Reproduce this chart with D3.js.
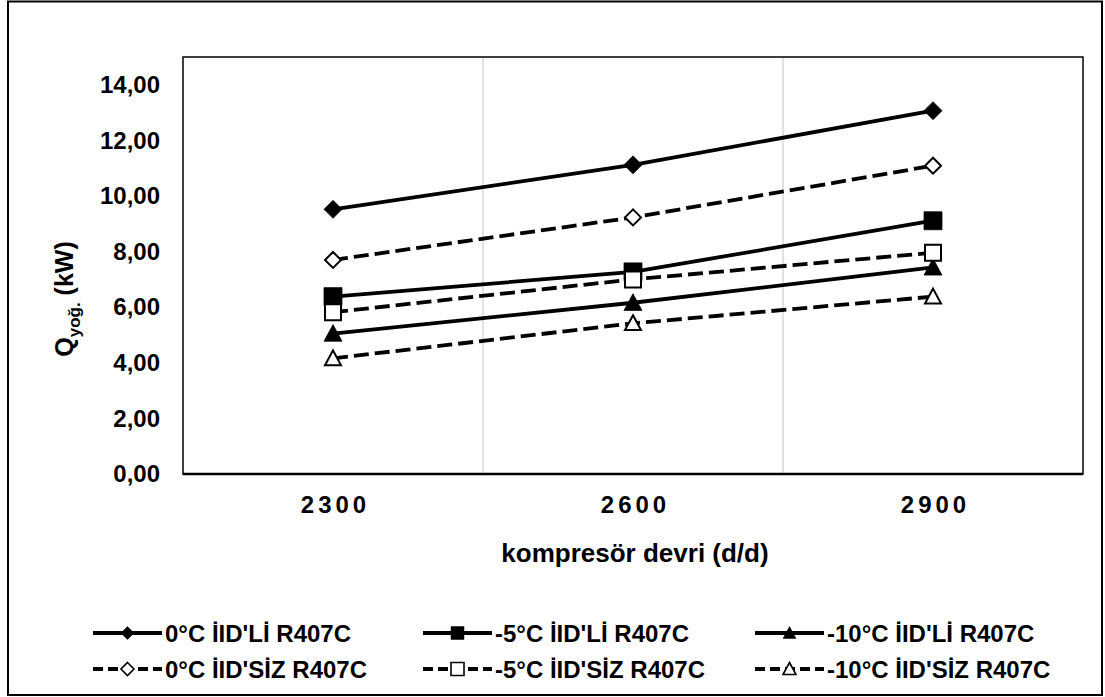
<!DOCTYPE html>
<html>
<head>
<meta charset="utf-8">
<script src="https://cdn.jsdelivr.net/npm/d3@7"></script>
<style>
  html, body { margin: 0; padding: 0; background: #fff; }
  svg text { font-family: "Liberation Sans", Arial, sans-serif; font-weight: bold; fill: #000; }
</style>
</head>
<body>
<svg id="chart" width="1105" height="697"></svg>
<script>
// Compressor speed categories (rpm)
const categories = ["2300", "2600", "2900"];

// Condenser capacity Q (kW) for each evaporating temperature, with / without IHX
const q0Li   = [9.52, 11.12, 13.07];
const q5Li   = [6.38, 7.27, 9.11];
const q10Li  = [5.05, 6.16, 7.43];
const q0Siz  = [7.70, 9.23, 11.09];
const q5Siz  = [5.82, 7.00, 7.96];
const q10Siz = [4.16, 5.42, 6.38];

const seriesNames = [
  "0°C İID'Lİ R407C", "-5°C İID'Lİ R407C", "-10°C İID'Lİ R407C",
  "0°C İID'SİZ R407C", "-5°C İID'SİZ R407C", "-10°C İID'SİZ R407C"
];
const seriesValues = [q0Li, q5Li, q10Li, q0Siz, q5Siz, q10Siz];
const seriesMarker = ["diamond", "square", "triangle", "diamond", "square", "triangle"];
const seriesFilled = [true, true, true, false, false, false];

const yTicks = [0, 2, 4, 6, 8, 10, 12, 14];
const yMax = 15;

const svg = d3.select("#chart");

// outer frame
svg.append("rect")
  .attr("x", 8).attr("y", 1.5).attr("width", 1094).attr("height", 693.5)
  .attr("fill", "#fff").attr("stroke", "#000").attr("stroke-width", 2);

const plot = { left: 183, top: 57, right: 1083, bottom: 474 };

const x = d3.scalePoint().domain(categories)
  .range([plot.left, plot.right]).padding(0.5);
const step = x.step();
const y = d3.scaleLinear().domain([0, yMax]).range([plot.bottom, plot.top]);

// vertical gridlines between categories
const g = svg.append("g");
g.selectAll("line.grid")
  .data(categories.slice(1))
  .join("line")
  .attr("class", "grid")
  .attr("x1", d => x(d) - step / 2).attr("x2", d => x(d) - step / 2)
  .attr("y1", plot.top).attr("y2", plot.bottom)
  .attr("stroke", "#d9d9d9").attr("stroke-width", 1.5);

// plot area border
g.append("rect")
  .attr("x", plot.left).attr("y", plot.top)
  .attr("width", plot.right - plot.left).attr("height", plot.bottom - plot.top)
  .attr("fill", "none").attr("stroke", "#000").attr("stroke-width", 1.5);
g.append("line")
  .attr("x1", plot.left).attr("x2", plot.right)
  .attr("y1", plot.bottom).attr("y2", plot.bottom)
  .attr("stroke", "#000").attr("stroke-width", 2.5);

// y axis
const yAxis = d3.axisLeft(y).tickValues(yTicks)
  .tickSize(0).tickPadding(23)
  .tickFormat(d => d3.format(".2f")(d).replace(".", ","));
const yg = svg.append("g").attr("transform", `translate(${plot.left},0)`).call(yAxis);
yg.select(".domain").remove();
yg.selectAll("text").style("font-size", "24px").style("font-family", null);

// x axis
const xAxis = d3.axisBottom(x).tickSize(0).tickPadding(22);
const xg = svg.append("g").attr("transform", `translate(0,${plot.bottom})`).call(xAxis);
xg.select(".domain").remove();
xg.selectAll("text").style("font-size", "24px").style("font-family", null)
  .style("letter-spacing", "4px").attr("dx", 2);

// axis titles
svg.append("text")
  .attr("x", (plot.left + plot.right) / 2 + 2).attr("y", 562)
  .attr("text-anchor", "middle")
  .style("font-size", "26px")
  .text("kompresör devri (d/d)");

const yt = svg.append("text")
  .attr("transform", "translate(73,299) rotate(-90)")
  .attr("text-anchor", "middle")
  .style("font-size", "25px");
yt.append("tspan").text("Q");
yt.append("tspan").attr("dy", 7).style("font-size", "17px").text("yoğ.");
yt.append("tspan").attr("dy", -7).text(" (kW)");

// marker drawing
function markerPath(type, s) {
  const h = s / 2;
  if (type === "diamond") return `M0,${-h}L${h},0L0,${h}L${-h},0Z`;
  if (type === "square") return `M${-h},${-h}H${h}V${h}H${-h}Z`;
  return `M0,${-h}L${h},${h * 0.85}H${-h}Z`;
}

const line = d3.line().x((d, i) => x(categories[i])).y(d => y(d));
const dash = "15,6";

seriesValues.forEach((vals, k) => {
  const sg = svg.append("g");
  sg.append("path")
    .datum(vals)
    .attr("d", line)
    .attr("fill", "none").attr("stroke", "#000").attr("stroke-width", 3.8)
    .attr("stroke-dasharray", seriesFilled[k] ? null : dash);
  const msize = seriesMarker[k] === "diamond" ? 18 : 18;
  sg.selectAll("path.m")
    .data(vals)
    .join("path")
    .attr("class", "m")
    .attr("transform", (d, i) => `translate(${x(categories[i])},${y(d)})`)
    .attr("d", markerPath(seriesMarker[k], seriesFilled[k] ? msize : msize - 2))
    .attr("fill", seriesFilled[k] ? "#000" : "#fff")
    .attr("stroke", "#000").attr("stroke-width", seriesFilled[k] ? 0.75 : 2);
});

// legend
const legendCols = [93, 423, 755];
const legendRows = [633, 669];
const sampleLen = 69;
seriesNames.forEach((name, k) => {
  const lx = legendCols[k % 3], ly = legendRows[Math.floor(k / 3)];
  const lg = svg.append("g").attr("transform", `translate(${lx},${ly})`);
  lg.append("line")
    .attr("x1", 0).attr("x2", sampleLen).attr("y1", 0).attr("y2", 0)
    .attr("stroke", "#000").attr("stroke-width", 3.8)
    .attr("stroke-dasharray", seriesFilled[k] ? null : "10,5");
  lg.append("path")
    .attr("transform", `translate(${sampleLen / 2},0)`)
    .attr("d", markerPath(seriesMarker[k], seriesFilled[k] ? 13 : 13))
    .attr("fill", seriesFilled[k] ? "#000" : "#fff")
    .attr("stroke", "#000").attr("stroke-width", seriesFilled[k] ? 0.5 : 1.6);
  lg.append("text")
    .attr("x", sampleLen + 3).attr("y", 0).attr("dy", "0.36em")
    .style("font-size", "24px")
    .text(name);
});
</script>
</body>
</html>
